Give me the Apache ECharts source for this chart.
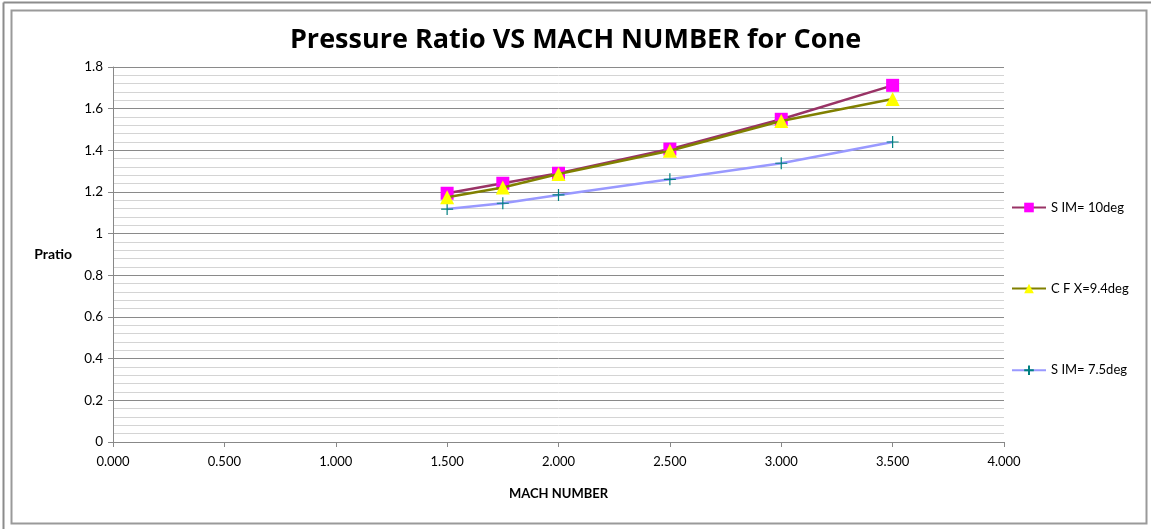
<!DOCTYPE html>
<html>
<head>
<meta charset="utf-8">
<script src="https://cdn.jsdelivr.net/npm/echarts@6/dist/echarts.min.js"></script>
<style>
  html, body { margin: 0; padding: 0; background: #fff; }
  #chart { width: 1151px; height: 529px; }
</style>
</head>
<body>
<div id="chart"></div>
<script>
const machNumbers = [1.5, 1.75, 2.0, 2.5, 3.0, 3.5];
const sim10 = [1.194, 1.242, 1.29, 1.406, 1.549, 1.712];
const cfx94 = [1.175, 1.222, 1.286, 1.398, 1.541, 1.646];
const sim75 = [1.118, 1.146, 1.186, 1.261, 1.338, 1.44];
const seriesNames = ['S IM= 10deg', 'C F X=9.4deg', 'S IM= 7.5deg'];

const pair = (vals) => machNumbers.map((x, i) => [x, vals[i]]);
const plusIcon = 'path://M0,5 L10,5 M5,0 L5,10';
const font = 'Lato, "Open Sans", sans-serif';

const chart = echarts.init(document.getElementById('chart'));

const opts = {
  animation: false,
  textStyle: { fontFamily: font },
  title: {
    text: 'Pressure Ratio VS MACH NUMBER for Cone',
    left: 'center',
    top: 22,
    textStyle: { fontSize: 27, fontWeight: 'bold', color: '#000', fontFamily: '"Open Sans", sans-serif' },
  },
  graphic: [
    { type: 'rect', shape: { x: 11.5, y: 10.5, width: 1135, height: 513 },
      style: { fill: 'none', stroke: '#9a9a9a', lineWidth: 2 } },
    { type: 'line', shape: { x1: 3.5, y1: 2.5, x2: 3.5, y2: 529 },
      style: { stroke: '#8c8c8c', lineWidth: 2 } },
    { type: 'line', shape: { x1: 3.5, y1: 2.5, x2: 1151, y2: 2.5 },
      style: { stroke: '#8c8c8c', lineWidth: 2 } },
  ],
  legend: {
    orient: 'vertical',
    left: 1006,
    top: 196,
    itemGap: 68,
    itemWidth: 34,
    itemHeight: 12,
    textStyle: { fontSize: 13, color: '#000', fontFamily: font },
    data: seriesNames,
  },
  grid: { left: 113, right: 147, top: 67, bottom: 87 },
  xAxis: {
    type: 'value',
    min: 0,
    max: 4,
    interval: 0.5,
    name: 'MACH NUMBER',
    nameLocation: 'middle',
    nameGap: 45,
    nameTextStyle: { fontSize: 13, fontWeight: 'bold', color: '#000' },
    axisLine: { onZero: false, lineStyle: { color: '#888' } },
    axisTick: { show: true, length: 5, lineStyle: { color: '#888' } },
    axisLabel: { color: '#000', fontSize: 13, margin: 13, formatter: (v) => v.toFixed(3) },
    splitLine: { show: false },
  },
  yAxis: {
    type: 'value',
    min: 0,
    max: 1.8,
    interval: 0.2,
    name: 'Pratio',
    nameLocation: 'middle',
    nameRotate: 0,
    nameGap: 41,
    nameTextStyle: { fontSize: 14, fontWeight: 'bold', color: '#000' },
    axisLine: { show: true, lineStyle: { color: '#888' } },
    axisTick: { show: true, length: 5, lineStyle: { color: '#888' } },
    axisLabel: { color: '#000', fontSize: 13.5, margin: 10, formatter: (v) => String(+v.toFixed(1)) },
    splitLine: { lineStyle: { color: '#8a8a8a', width: 1 } },
    minorTick: { show: false, splitNumber: 5 },
    minorSplitLine: { show: true, lineStyle: { color: '#d4d4d4', width: 1 } },
  },
  series: [
    {
      name: seriesNames[0],
      type: 'line',
      data: pair(sim10),
      symbol: 'rect',
      symbolSize: 13,
      lineStyle: { color: '#993366', width: 2.5 },
      itemStyle: { color: '#ff00ff' },
      z: 3,
    },
    {
      name: seriesNames[1],
      type: 'line',
      data: pair(cfx94),
      symbol: 'triangle',
      symbolSize: 14,
      lineStyle: { color: '#808000', width: 2.5 },
      itemStyle: { color: '#ffff00' },
      z: 4,
    },
    {
      name: seriesNames[2],
      type: 'line',
      data: pair(sim75),
      symbol: plusIcon,
      symbolSize: 12,
      lineStyle: { color: '#9999ff', width: 2.5 },
      itemStyle: { color: 'none', borderColor: '#008080', borderWidth: 1.2 },
      z: 2,
    },
  ],
};

chart.setOption(opts);
</script>
</body>
</html>
